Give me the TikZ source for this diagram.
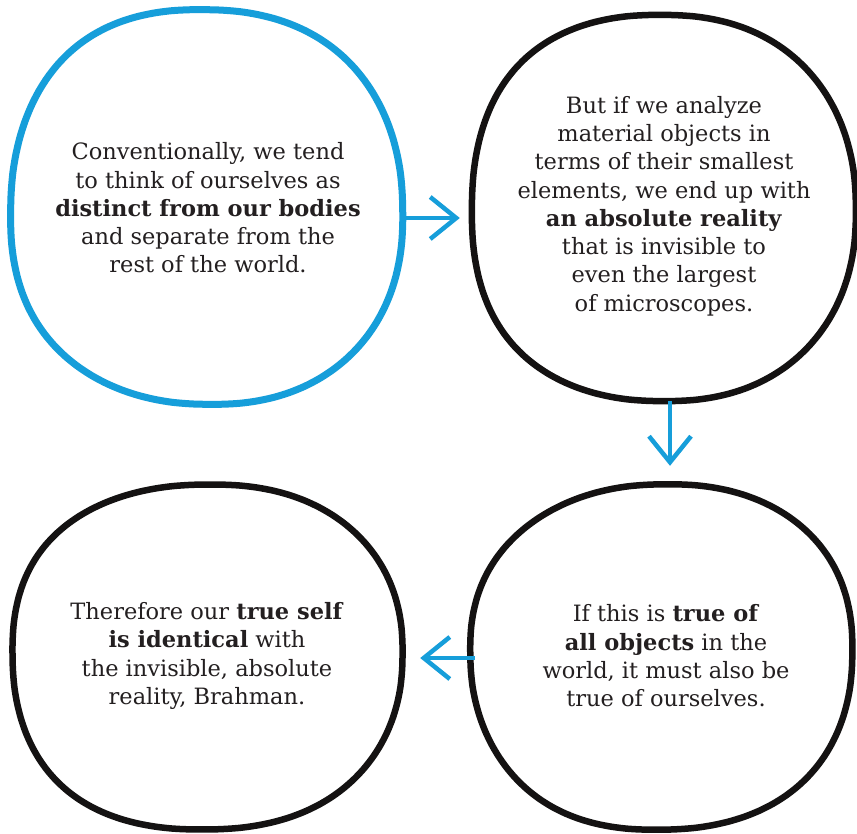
\documentclass[tikz,border=0pt]{standalone}
\usepackage{fontspec}
\setmainfont{DejaVu Serif}
\usetikzlibrary{arrows.meta}
\definecolor{flowblue}{RGB}{22,158,218}
\definecolor{inkblack}{RGB}{20,18,18}
\definecolor{txtcol}{RGB}{35,31,32}
\newcommand\blobpath[7]{% cx cy a b amp phase style
  \draw[#7] plot[smooth cycle, domain=2.5:357.5, samples=72]
    ({#1 + (#3 + #5*sin(3*\x+#6))*sign(cos(\x))*pow(abs(cos(\x)),0.88)},
     {#2 + (#4 + #5*sin(2*\x+#6))*sign(sin(\x))*pow(abs(sin(\x)),0.88)});}
\begin{document}
\begin{tikzpicture}[x=1pt,y=-1pt,
  ring/.style={line width=6.5pt, line join=round},
  bluering/.style={ring, draw=flowblue, line width=7pt},
  blackring/.style={ring, draw=inkblack},
  boxtext/.style={inner sep=0pt, align=center, text=txtcol,
    font=\fontsize{22.5}{28.3}\selectfont},
  flowarrow/.style={draw=flowblue, line width=4.5pt,
    -{Straight Barb[length=26pt,width=42pt,line width=4.5pt]}}]
\useasboundingbox (0,0) rectangle (857,834);
\fill[white] (0,0) rectangle (857,834);
% rings
\blobpath{206}{207}{196}{198}{2}{20}{bluering}
\blobpath{662}{208}{192}{195}{2}{70}{blackring}
\blobpath{206}{657}{195}{174}{2}{130}{blackring}
\blobpath{662}{657}{191}{172}{2}{200}{blackring}
% nodes
\node[boxtext, minimum width=392pt, minimum height=396pt] (c1) at (208,208)
  {Conventionally, we tend\\ to think of ourselves as\\ \textbf{distinct from our bodies}\\ and separate from the\\ rest of the world.};
\node[boxtext, minimum width=384pt, minimum height=390pt] (c2) at (664,206)
  {But if we analyze\\ material objects in\\ terms of their smallest\\ elements, we end up with\\ \textbf{an absolute reality}\\ that is invisible to\\ even the largest\\ of microscopes.};
\node[boxtext, minimum width=382pt, minimum height=344pt] (c3) at (666,656)
  {If this is \textbf{true of}\\ \textbf{all objects} in the\\ world, it must also be\\ true of ourselves.};
\node[boxtext, minimum width=390pt, minimum height=348pt] (c4) at (207,656)
  {Therefore our \textbf{true self}\\ \textbf{is identical} with\\ the invisible, absolute\\ reality, Brahman.};
% arrows
\draw[flowarrow, shorten >=12pt] ([yshift=-10pt]c1.east) -- ([yshift=-12pt]c2.west);
\draw[flowarrow, shorten >=18pt] ([xshift=6pt]c2.south) -- ([xshift=4pt]c3.north);
\draw[flowarrow, shorten >=18pt] ([yshift=-2pt]c3.west) -- ([yshift=-2pt]c4.east);
\end{tikzpicture}
\end{document}
